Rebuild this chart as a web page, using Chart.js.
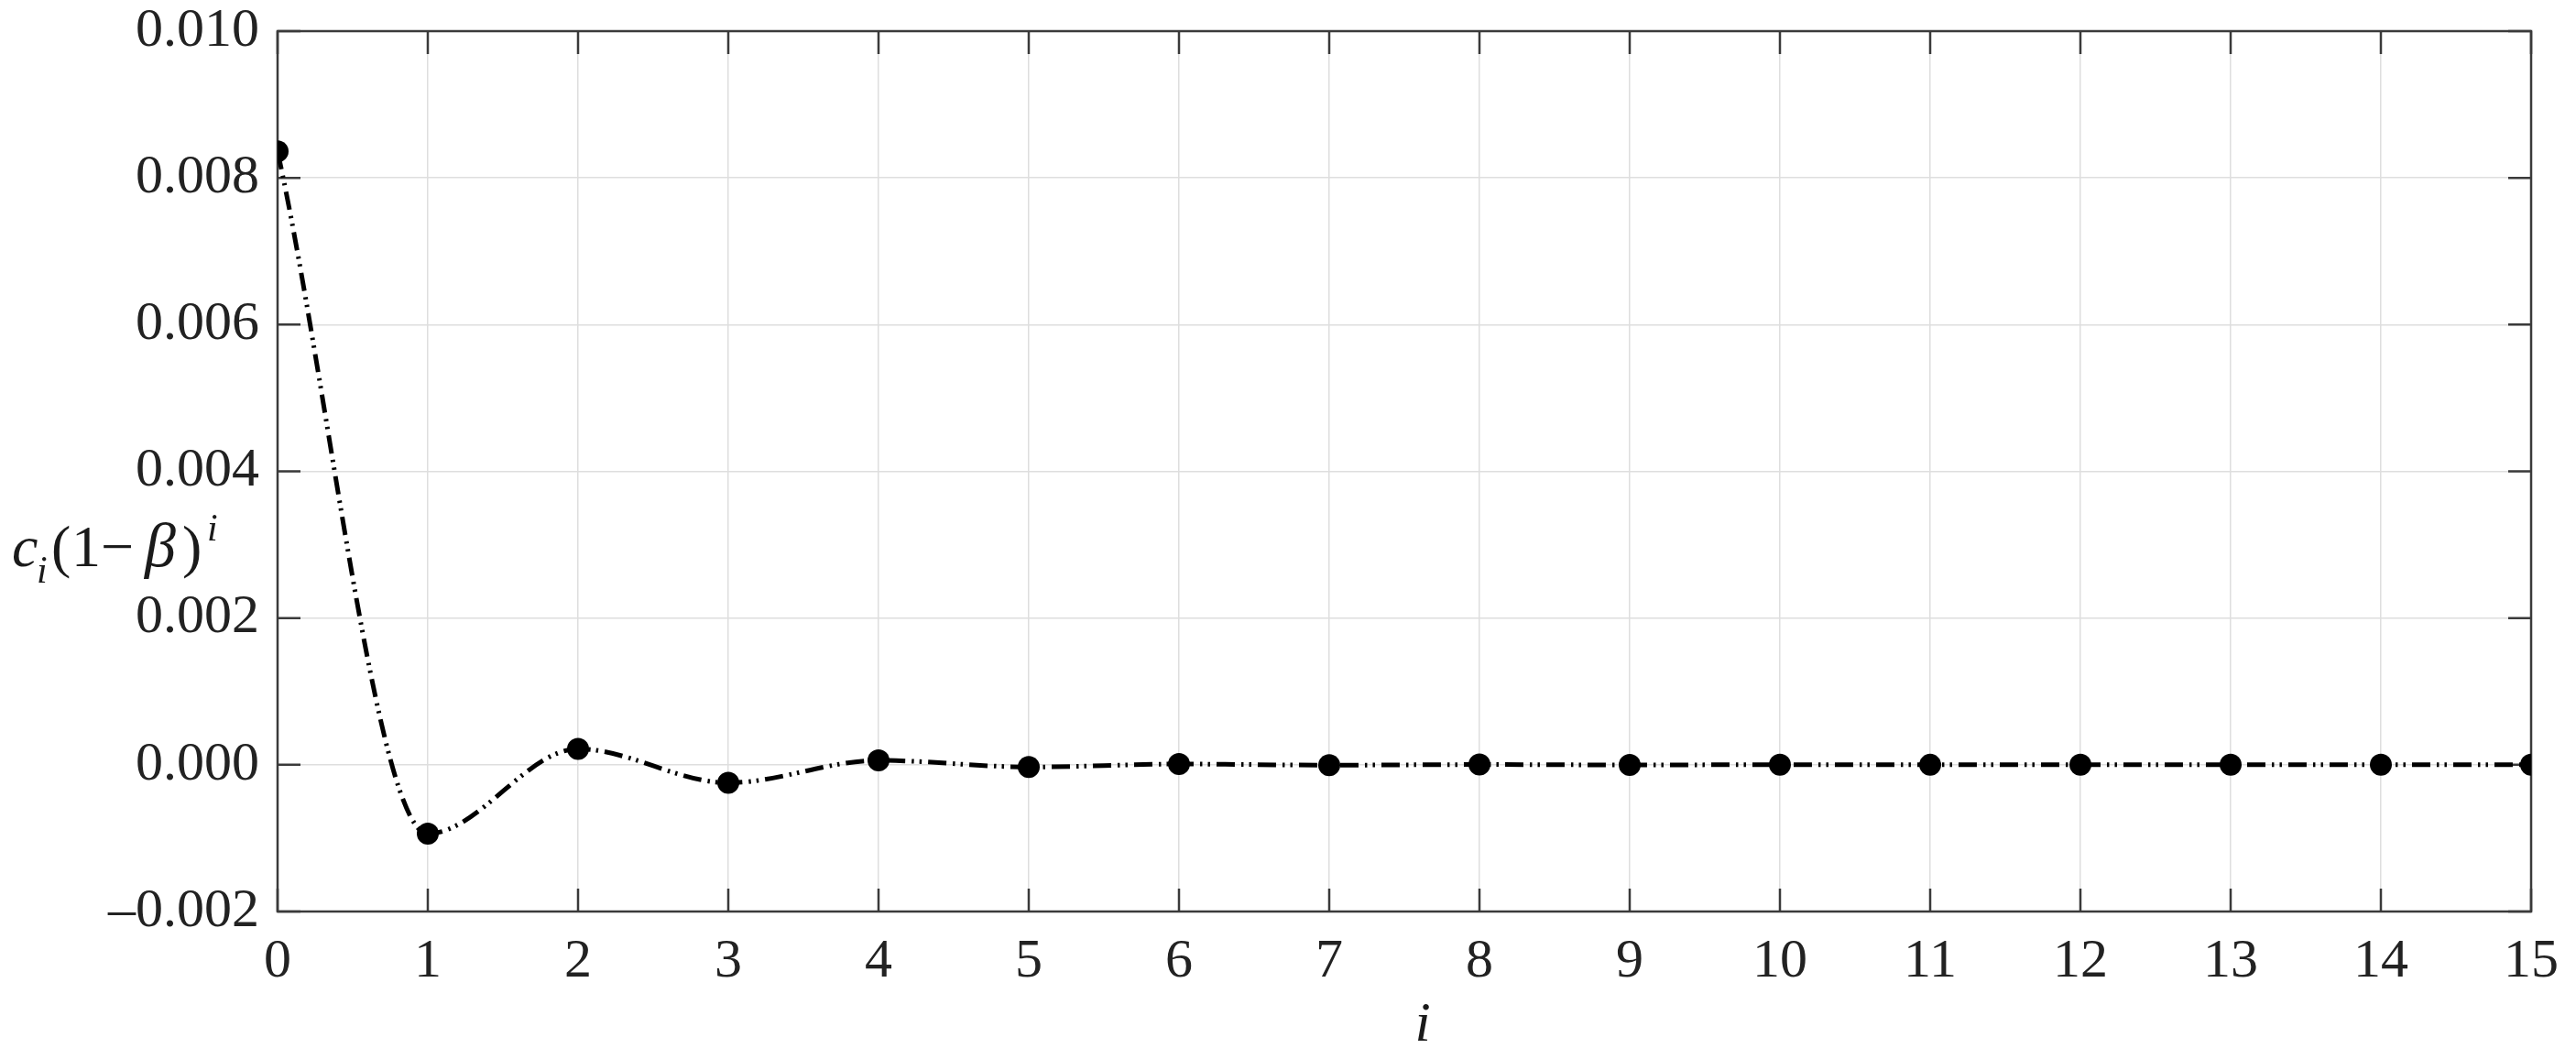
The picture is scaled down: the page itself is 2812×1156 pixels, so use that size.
<!DOCTYPE html>
<html>
<head>
<meta charset="utf-8">
<script src="https://cdn.jsdelivr.net/npm/chart.js@4"></script>
<style>
  html, body { margin: 0; padding: 0; background: #fff; }
  canvas { display: block; }
</style>
</head>
<body>
<canvas id="myChart" width="2812" height="1156"></canvas>
<script>
// datos
const indices = [0, 1, 2, 3, 4, 5, 6, 7, 8, 9, 10, 11, 12, 13, 14, 15];
const valores = [0.00836, -0.000938, 0.000217, -0.000245, 0.00006, -0.00003,
  0.00001, -0.000005, 0.000003, -0.000002, 0.000001, -0.0000005,
  0.0000003, -0.0000002, 0.0000001, 0];
const xTicks = [0, 1, 2, 3, 4, 5, 6, 7, 8, 9, 10, 11, 12, 13, 14, 15];
const yTicks = [-0.002, 0, 0.002, 0.004, 0.006, 0.008, 0.010];

const fuente = 'Liberation Serif, Times New Roman, serif';

// marco y ticks hacia dentro, como en matlab
const marcoPlugin = {
  id: 'marco',
  beforeDatasetsDraw(chart) {
    const { ctx, chartArea: a, scales } = chart;
    const largo = 25;
    ctx.save();
    ctx.strokeStyle = '#3a3a3a';
    ctx.lineWidth = 2.5;
    ctx.beginPath();
    xTicks.forEach(v => {
      const px = scales.x.getPixelForValue(v);
      ctx.moveTo(px, a.bottom); ctx.lineTo(px, a.bottom - largo);
      ctx.moveTo(px, a.top); ctx.lineTo(px, a.top + largo);
    });
    yTicks.forEach(v => {
      const py = scales.y.getPixelForValue(v);
      ctx.moveTo(a.left, py); ctx.lineTo(a.left + largo, py);
      ctx.moveTo(a.right, py); ctx.lineTo(a.right - largo, py);
    });
    ctx.stroke();
    ctx.strokeRect(a.left, a.top, a.right - a.left, a.bottom - a.top);
    ctx.restore();
  },
  afterDraw(chart) {
    const { ctx, chartArea: a } = chart;
    ctx.save();
    ctx.fillStyle = '#1a1a1a';
    ctx.textBaseline = 'alphabetic';
    // titulo eje x
    ctx.font = 'italic 62px ' + fuente;
    ctx.textAlign = 'center';
    ctx.fillText('i', (a.left + a.right) / 2 + 20, 1136);
    // titulo eje y: c_i(1-β)^i
    ctx.textAlign = 'left';
    const base = 618;
    ctx.font = 'italic 64px ' + fuente;
    ctx.fillText('c', 13, base);
    ctx.font = 'italic 42px ' + fuente;
    ctx.fillText('i', 40, base + 18);
    ctx.font = '64px ' + fuente;
    ctx.fillText('(', 56, base);
    ctx.fillText('1', 78, base);
    ctx.fillText('\u2212', 110, base);
    ctx.font = 'italic 68px ' + fuente;
    ctx.fillText('\u03b2', 158, base);
    ctx.font = '64px ' + fuente;
    ctx.fillText(')', 199, base);
    ctx.font = 'italic 42px ' + fuente;
    ctx.fillText('i', 226, base - 28);
    ctx.restore();
  }
};

function crearGrafico() {
  const ctx = document.getElementById('myChart').getContext('2d');
  new Chart(ctx, {
    type: 'line',
    data: {
      datasets: [{
        data: indices.map((x, k) => ({ x: x, y: valores[k] })),
        borderColor: '#000',
        backgroundColor: '#000',
        borderWidth: 5,
        borderDash: [20, 7, 2.5, 6, 2.5, 7],
        cubicInterpolationMode: 'monotone',
        pointRadius: 12,
        pointHoverRadius: 12,
        pointBorderWidth: 0,
        pointBackgroundColor: '#000',
        fill: false
      }]
    },
    options: {
      responsive: false,
      animation: false,
      layout: { padding: { left: 0, right: 49, top: 34, bottom: 0 } },
      plugins: { legend: { display: false }, tooltip: { enabled: false } },
      scales: {
        x: {
          type: 'linear',
          min: 0,
          max: 15,
          afterBuildTicks: s => { s.ticks = xTicks.map(v => ({ value: v })); },
          afterFit: s => { s.height = 161; },
          grid: { color: '#dedede', lineWidth: 1.5, drawTicks: false },
          border: { display: false },
          ticks: {
            padding: 19,
            color: '#222',
            font: { family: fuente, size: 60, lineHeight: 1.2 },
            callback: v => String(v)
          }
        },
        y: {
          min: -0.002,
          max: 0.010,
          afterBuildTicks: s => { s.ticks = yTicks.map(v => ({ value: v })); },
          afterFit: s => { s.width = 303; },
          grid: { color: '#dedede', lineWidth: 1.5, drawTicks: false },
          border: { display: false },
          ticks: {
            padding: 20,
            color: '#222',
            font: { family: fuente, size: 60, lineHeight: 0.45 },
            callback: v => {
              if (Math.abs(v) < 1e-9) return '0.000';
              return v < 0 ? '\u2013' + Math.abs(v).toFixed(3) : v.toFixed(3);
            }
          }
        }
      }
    },
    plugins: [marcoPlugin]
  });
}

crearGrafico();
</script>
</body>
</html>
